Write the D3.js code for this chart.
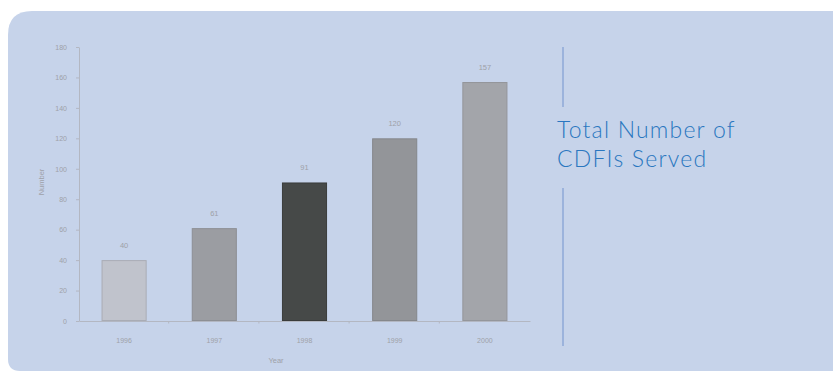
<!DOCTYPE html>
<html>
<head>
<meta charset="utf-8">
<script src="https://cdn.jsdelivr.net/npm/d3@7/dist/d3.min.js"></script>
<style>
  html, body { margin: 0; padding: 0; background: #ffffff; }
  svg { display: block; }
</style>
</head>
<body>
<svg id="chart" width="833" height="373"></svg>
<script>
// ---- data ----
const years = ["1996", "1997", "1998", "1999", "2000"];
const cdfis = [40, 61, 91, 120, 157];
const yTicks = [0, 20, 40, 60, 80, 100, 120, 140, 160, 180];
const titleLines = ["Total Number of", "CDFIs Served"];
const xTitle = "Year";
const yTitle = "Number";

// ---- styles ----
const barFill = ["#c0c3cc", "#9b9da2", "#464948", "#939599", "#a3a5aa"];
const barEdge = ["#a9acb5", "#8d8f94", "#3a3c3b", "#85878b", "#94969b"];
const panelColor = "#c6d3ea";
const axisColor = "#b3b7c2";
const labelColor = "#9ea1a8";

const svg = d3.select("#chart");

// background panel with rounded left corners
const px0 = 8, py0 = 11, px1 = 833, py1 = 371, rTop = 24, rBot = 12;
svg.append("path")
  .attr("d", `M${px0 + rTop},${py0} L${px1},${py0} L${px1},${py1} L${px0 + rBot},${py1}
              Q${px0},${py1} ${px0},${py1 - rBot} L${px0},${py0 + rTop} Q${px0},${py0} ${px0 + rTop},${py0} Z`)
  .attr("fill", panelColor);

// scales
const x = d3.scaleBand().domain(years).range([79, 530]).paddingInner(0.5).paddingOuter(0.25);
const y = d3.scaleLinear().domain([0, 180]).range([321, 47]);

// y axis
const yAxis = svg.append("g").attr("transform", "translate(79,0)")
  .call(d3.axisLeft(y).tickValues(yTicks).tickSize(3).tickPadding(9).tickSizeOuter(0));
yAxis.select(".domain").attr("stroke", axisColor);
yAxis.selectAll(".tick line").attr("stroke", axisColor);
yAxis.selectAll(".tick text").attr("fill", labelColor)
  .style("font-family", "Liberation Sans, Arial, sans-serif").style("font-size", "7px");

// x axis
const xAxis = svg.append("g").attr("transform", "translate(0,321)")
  .call(d3.axisBottom(x).tickSize(0).tickPadding(17).tickSizeOuter(0));
xAxis.select(".domain").attr("stroke", axisColor);
xAxis.selectAll(".tick text").attr("fill", labelColor)
  .style("font-family", "Liberation Sans, Arial, sans-serif").style("font-size", "7px");
// boundary tick marks between categories
xAxis.selectAll(".sep").data(years.slice(1)).enter().append("line")
  .attr("class", "sep")
  .attr("x1", d => x(d) - x.step() * x.paddingInner() / 2 - 0.5)
  .attr("x2", d => x(d) - x.step() * x.paddingInner() / 2 - 0.5)
  .attr("y1", 0).attr("y2", 2.5)
  .attr("stroke", axisColor);

// bars
svg.append("g").selectAll("rect").data(years).enter().append("rect")
  .attr("x", d => x(d) + 0.5)
  .attr("y", (d, i) => y(cdfis[i]) + 0.5)
  .attr("width", x.bandwidth() - 1)
  .attr("height", (d, i) => y(0) - y(cdfis[i]) - 1)
  .attr("fill", (d, i) => barFill[i])
  .attr("stroke", (d, i) => barEdge[i])
  .attr("stroke-width", 1);

// value labels
svg.append("g").selectAll("text").data(years).enter().append("text")
  .attr("x", d => x(d) + x.bandwidth() / 2)
  .attr("y", (d, i) => y(cdfis[i]) - 12)
  .attr("text-anchor", "middle")
  .attr("fill", labelColor)
  .style("font-family", "Liberation Sans, Arial, sans-serif").style("font-size", "7.5px")
  .text((d, i) => cdfis[i]);

// axis titles
svg.append("text").attr("x", 276).attr("y", 363).attr("text-anchor", "middle")
  .attr("fill", labelColor)
  .style("font-family", "Liberation Sans, Arial, sans-serif").style("font-size", "7.5px")
  .text(xTitle);
svg.append("text").attr("transform", "translate(44,182) rotate(-90)").attr("text-anchor", "middle")
  .attr("fill", labelColor)
  .style("font-family", "Liberation Sans, Arial, sans-serif").style("font-size", "7.5px")
  .text(yTitle);

// right side divider lines
const lineColor = "#9cb3dc";
svg.append("line").attr("x1", 563).attr("x2", 563).attr("y1", 47).attr("y2", 107)
  .attr("stroke", lineColor).attr("stroke-width", 2);
svg.append("line").attr("x1", 563).attr("x2", 563).attr("y1", 188).attr("y2", 346)
  .attr("stroke", lineColor).attr("stroke-width", 2);

// title (two lines as separate texts)
svg.append("g").selectAll("text").data(titleLines).enter().append("text")
  .attr("x", 557)
  .attr("y", (d, i) => 138 + i * 29)
  .attr("fill", "#2a77c0")
  .style("font-family", "Lato, 'Open Sans', sans-serif")
  .style("font-weight", "300")
  .style("font-size", "23px")
  .style("letter-spacing", "1.2px")
  .text(d => d);
</script>
</body>
</html>
